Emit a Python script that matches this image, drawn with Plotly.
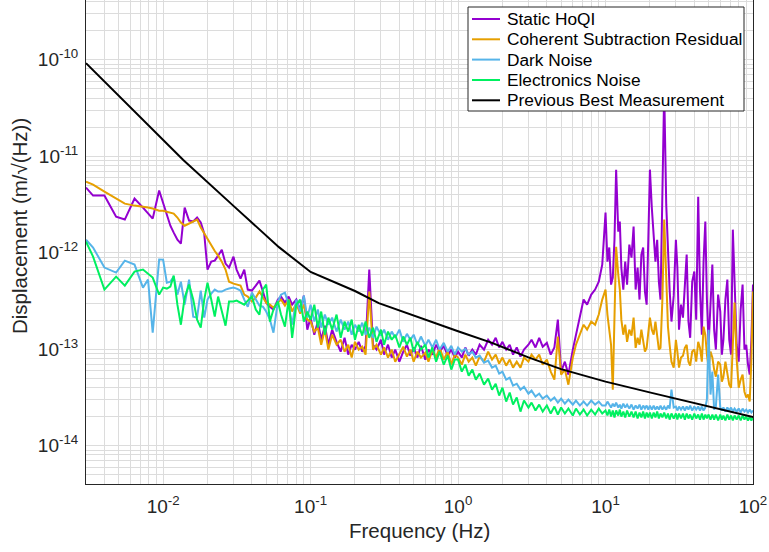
import plotly.graph_objects as go

# Frequency bins (Hz) shared by the four measured spectra
freq_hz = [
    0.0030, 0.00335, 0.0040, 0.0048, 0.0055, 0.0064, 0.0073, 0.0079, 0.0085, 0.0094,
    0.0100, 0.0106, 0.0112, 0.0118, 0.0125, 0.0132, 0.0140, 0.0150, 0.0160, 0.0170,
    0.0180, 0.0190, 0.0200, 0.0212, 0.0224, 0.0236, 0.0250, 0.0265, 0.0280, 0.0300,
    0.0315, 0.0335, 0.0355, 0.0375, 0.0400, 0.0425, 0.0450, 0.0475, 0.0500, 0.0530,
    0.0560, 0.0600, 0.0630, 0.0670, 0.0710, 0.0750, 0.0800, 0.0850, 0.0900, 0.0950,
    0.100, 0.106, 0.112, 0.118, 0.125, 0.132, 0.140, 0.150, 0.160, 0.170,
    0.180, 0.190, 0.200, 0.212, 0.224, 0.236, 0.250, 0.265, 0.280, 0.300,
    0.315, 0.335, 0.355, 0.375, 0.400, 0.425, 0.450, 0.475, 0.500, 0.530,
    0.560, 0.600, 0.630, 0.670, 0.710, 0.750, 0.800, 0.850, 0.900, 0.950,
    1.00, 1.06, 1.12, 1.18, 1.25, 1.32, 1.40, 1.50, 1.60, 1.70,
    1.80, 1.90, 2.00, 2.12, 2.24, 2.36, 2.50, 2.65, 2.80, 3.00,
    3.15, 3.35, 3.55, 3.75, 4.00, 4.25, 4.50, 4.75, 5.00, 5.30,
    5.60, 6.00, 6.30, 6.70, 7.10, 7.50, 8.00, 8.50, 9.00, 9.50,
    10.0, 10.3, 10.6, 10.9, 11.2, 11.5, 11.8, 12.2, 12.5, 12.8,
    13.2, 13.6, 14.0, 14.5, 15.0, 15.5, 16.0, 16.5, 17.0, 17.5,
    18.0, 18.5, 19.0, 19.5, 20.0, 20.6, 21.2, 21.8, 22.4, 23.0,
    23.6, 24.3, 25.0, 25.8, 26.5, 27.2, 28.0, 29.0, 30.0, 30.7,
    31.5, 32.5, 33.5, 34.5, 35.5, 36.5, 37.5, 38.7, 40.0, 41.2,
    42.5, 43.7, 45.0, 46.2, 47.5, 48.7, 50.0, 51.5, 53.0, 54.5,
    56.0, 58.0, 60.0, 61.5, 63.0, 65.0, 67.0, 69.0, 71.0, 73.0,
    75.0, 77.5, 80.0, 82.5, 85.0, 87.5, 90.0, 92.5, 95.0, 97.5,
    100.0,
]

# Displacement spectra, in units of 1e-13 m/sqrt(Hz)
static_hoqi = [
    47.2, 39.0, 39.0, 23.6, 22.0, 36.3, 29.3, 25.4, 22.5, 44.0,
    33.0, 25.4, 19.0, 16.1, 13.6, 12.4, 29.3, 21.5, 21.0, 23.1,
    20.5, 15.8, 6.67, 8.06, 8.26, 9.30, 10.7, 7.69, 7.0, 9.08,
    6.67, 5.38, 6.67, 4.14, 4.04, 4.55, 5.12, 3.95, 3.03, 2.75,
    2.57, 3.26, 3.50, 3.03, 3.50, 2.89, 3.26, 2.57, 3.58, 1.59,
    2.12, 1.41, 1.93, 1.25, 1.75, 1.11, 1.59, 1.19, 0.94, 1.31,
    0.877, 1.11, 0.989, 1.19, 0.94, 1.08, 6.67, 1.11, 0.989, 1.25,
    0.877, 1.11, 0.817, 0.989, 0.741, 0.94, 1.11, 0.856, 1.04, 0.817,
    1.08, 0.778, 0.989, 0.877, 1.11, 0.94, 1.08, 0.856, 0.989, 0.817,
    0.94, 0.817, 1.04, 0.856, 0.989, 0.877, 1.11, 0.989, 1.25, 1.11,
    1.31, 1.04, 1.19, 0.989, 1.11, 0.877, 1.04, 0.836, 0.989, 1.11,
    1.25, 1.04, 1.31, 1.06, 1.16, 0.877, 1.04, 2.02, 0.584, 0.741,
    0.544, 0.989, 1.41, 2.28, 3.26, 2.89, 3.67, 4.14, 5.0, 7.51,
    26.0, 8.06, 11.3, 4.66, 5.51, 13.6, 72.4, 16.5, 21.0, 6.99,
    4.14, 8.06, 4.66, 12.1, 8.87, 18.6, 4.14, 6.99, 3.26, 9.53,
    11.3, 3.95, 2.89, 13.6, 72.4, 29.2, 16.5, 8.06, 13.6, 5.0,
    3.26, 39.9, 488.7, 31.4, 9.53, 4.14, 1.93, 3.58, 13.6, 6.99,
    1.59, 2.89, 2.12, 4.66, 9.53, 1.93, 1.31, 5.0, 6.36, 2.02,
    38.0, 4.14, 1.41, 8.06, 21.0, 3.26, 1.11, 2.89, 7.51, 1.59,
    0.989, 3.67, 2.45, 0.877, 1.25, 3.26, 5.25, 1.25, 0.877, 17.3,
    3.95, 1.11, 0.741, 2.57, 4.66, 0.989, 1.11, 0.691, 0.544, 1.25,
    4.66,
]

coherent_residual = [
    54.4, 50.7, 42.9, 36.3, 32.2, 30.7, 30.0, 29.3, 28.6, 27.2,
    27.2, 26.6, 25.9, 25.4, 23.1, 20.5, 19.0, 20.0, 21.0, 22.0,
    18.2, 15.8, 13.9, 12.1, 10.4, 9.30, 8.06, 6.67, 5.0, 4.77,
    4.66, 4.55, 3.67, 3.50, 3.11, 3.42, 3.95, 3.50, 3.03, 2.89,
    2.69, 3.03, 3.26, 2.82, 3.26, 2.45, 2.96, 2.33, 2.89, 2.02,
    1.93, 1.52, 1.67, 1.11, 1.59, 0.989, 1.41, 1.11, 1.25, 0.94,
    1.11, 0.817, 1.19, 0.989, 1.06, 0.877, 3.95, 0.989, 1.11, 0.877,
    1.04, 0.817, 0.989, 0.741, 0.877, 1.06, 0.836, 0.989, 0.741, 0.94,
    0.817, 0.92, 0.741, 0.989, 0.817, 1.04, 0.778, 0.94, 0.691, 0.877,
    0.817, 0.691, 0.877, 0.741, 0.817, 0.674, 0.836, 0.741, 0.94, 0.778,
    0.877, 0.708, 0.817, 0.674, 0.778, 0.643, 0.741, 0.643, 0.817, 0.741,
    0.877, 0.778, 0.877, 0.691, 0.778, 0.584, 0.483, 1.35, 0.544, 0.613,
    0.428, 0.817, 1.11, 1.41, 1.79, 1.59, 1.93, 1.79, 2.28, 3.26,
    4.14, 2.28, 1.59, 1.11, 0.380, 3.26, 11.5, 5.92, 4.14, 2.02,
    1.41, 1.79, 1.19, 1.59, 1.38, 2.12, 1.03, 1.31, 1.11, 1.59,
    1.25, 0.943, 1.03, 1.59, 2.12, 1.59, 1.41, 1.93, 1.25, 0.989,
    1.03, 3.26, 22.0, 4.14, 1.71, 1.11, 0.741, 0.643, 1.25, 0.943,
    0.643, 0.817, 0.856, 1.03, 1.11, 0.741, 0.674, 0.943, 0.989, 0.741,
    1.19, 1.03, 0.741, 1.71, 1.41, 0.877, 0.643, 0.943, 0.817, 0.613,
    0.518, 0.741, 0.691, 0.460, 0.518, 0.741, 0.584, 0.428, 0.398, 1.25,
    3.03, 0.778, 0.398, 0.483, 0.544, 0.362, 0.315, 0.338, 0.286, 0.778,
    3.95,
]

dark_noise = [
    13.6, 11.3, 7.0, 6.21, 8.26, 7.52, 4.34, 5.25, 1.48, 8.47,
    8.46, 4.88, 5.0, 5.64, 3.67, 5.0, 2.89, 5.25, 2.17, 2.12,
    4.04, 2.12, 3.26, 3.76, 4.14, 3.95, 3.95, 4.14, 4.24, 4.34,
    4.24, 4.04, 3.26, 2.75, 3.85, 3.26, 2.82, 2.75, 2.45, 2.02,
    1.48, 3.11, 3.67, 3.85, 2.89, 1.79, 3.26, 2.45, 3.58, 2.12,
    2.89, 1.93, 2.57, 1.67, 2.28, 1.79, 2.12, 1.52, 2.02, 1.59,
    1.93, 1.41, 1.79, 1.52, 1.88, 1.41, 1.67, 1.31, 1.71, 1.38,
    1.59, 1.25, 1.52, 1.31, 1.59, 1.19, 1.44, 1.25, 1.41, 1.11,
    1.35, 1.08, 1.25, 1.04, 1.25, 0.989, 1.16, 0.94, 1.08, 0.877,
    1.04, 0.94, 1.01, 0.877, 0.94, 0.817, 0.856, 0.724, 0.759, 0.643,
    0.674, 0.557, 0.584, 0.483, 0.506, 0.418, 0.438, 0.380, 0.408, 0.346,
    0.371, 0.322, 0.346, 0.307, 0.330, 0.293, 0.315, 0.279, 0.307, 0.272,
    0.300, 0.266, 0.293, 0.260, 0.286, 0.260, 0.293, 0.266, 0.286, 0.260,
    0.260, 0.286, 0.266, 0.248, 0.272, 0.254, 0.279, 0.248, 0.266, 0.242,
    0.272, 0.248, 0.266, 0.242, 0.266, 0.236, 0.260, 0.242, 0.266, 0.236,
    0.260, 0.242, 0.260, 0.236, 0.260, 0.236, 0.260, 0.236, 0.254, 0.236,
    0.260, 0.236, 0.254, 0.236, 0.260, 0.242, 0.380, 0.248, 0.254, 0.231,
    0.254, 0.236, 0.254, 0.231, 0.254, 0.236, 0.260, 0.231, 0.254, 0.236,
    0.254, 0.231, 0.254, 0.231, 0.248, 0.300, 1.59, 0.338, 0.584, 0.236,
    0.254, 0.544, 0.248, 0.231, 0.248, 0.225, 0.248, 0.231, 0.248, 0.225,
    0.242, 0.225, 0.242, 0.220, 0.242, 0.225, 0.236, 0.220, 0.236, 0.220,
    0.231,
]

electronics_noise = [
    13.0, 9.1, 4.14, 5.64, 4.55, 6.36, 6.67, 6.06, 5.51, 3.67,
    4.34, 4.24, 4.45, 5.78, 2.89, 1.79, 3.42, 4.66, 3.26, 2.02,
    1.67, 3.26, 4.88, 3.26, 2.17, 3.50, 2.45, 1.75, 3.11, 3.11,
    3.18, 3.03, 2.89, 3.18, 3.50, 2.57, 2.28, 4.14, 4.66, 1.93,
    2.57, 3.11, 2.28, 1.71, 3.26, 1.31, 2.89, 3.26, 1.93, 2.45,
    2.02, 2.89, 1.67, 2.45, 1.41, 2.12, 1.59, 2.28, 1.31, 1.93,
    1.52, 2.02, 1.25, 1.79, 1.38, 1.93, 1.31, 1.67, 1.19, 1.59,
    1.11, 1.52, 1.25, 1.41, 1.04, 1.35, 1.11, 1.31, 0.94, 1.19,
    0.989, 1.11, 0.817, 1.04, 0.741, 0.94, 0.691, 0.856, 0.613, 0.778,
    0.778, 0.584, 0.691, 0.531, 0.613, 0.483, 0.557, 0.428, 0.495, 0.380,
    0.438, 0.330, 0.398, 0.286, 0.354, 0.266, 0.315, 0.225, 0.293, 0.248,
    0.279, 0.231, 0.266, 0.225, 0.260, 0.215, 0.254, 0.210, 0.248, 0.215,
    0.242, 0.205, 0.242, 0.210, 0.236, 0.205, 0.236, 0.210, 0.242, 0.215,
    0.231, 0.205, 0.236, 0.200, 0.231, 0.196, 0.231, 0.205, 0.236, 0.200,
    0.225, 0.196, 0.231, 0.200, 0.225, 0.196, 0.225, 0.191, 0.220, 0.196,
    0.225, 0.191, 0.220, 0.196, 0.220, 0.191, 0.220, 0.196, 0.225, 0.191,
    0.215, 0.196, 0.220, 0.191, 0.215, 0.186, 0.215, 0.191, 0.215, 0.186,
    0.215, 0.191, 0.215, 0.186, 0.215, 0.191, 0.210, 0.186, 0.215, 0.191,
    0.210, 0.186, 0.215, 0.186, 0.210, 0.191, 0.210, 0.186, 0.210, 0.186,
    0.210, 0.182, 0.210, 0.186, 0.205, 0.182, 0.210, 0.186, 0.205, 0.182,
    0.205, 0.186, 0.205, 0.182, 0.205, 0.186, 0.200, 0.182, 0.200, 0.182,
    0.196,
]

# Previous best measurement (m/sqrt(Hz))
prev_freq_hz = [0.003, 0.006, 0.0137, 0.03, 0.061, 0.1, 0.2, 0.29, 0.6, 1.0,
                1.7, 3.0, 5.0, 10.0, 20.9, 50.0, 100.0]
prev_best = [9.2e-11, 3.2e-11, 9.1e-12, 3.05e-12, 1.14e-12, 6.3e-13, 4.0e-13,
             3.0e-13, 2.0e-13, 1.53e-13, 1.16e-13, 8.2e-14, 6.2e-14, 4.6e-14,
             3.5e-14, 2.55e-14, 1.98e-14]

UNIT = 1e-13

legend_names = ["Static HoQI", "Coherent Subtraction Residual", "Dark Noise",
                "Electronics Noise", "Previous Best Measurement"]
legend_colors = ["#9400D0", "#E69F00", "#56B4E9", "#00F060", "#000000"]
series_vals = [static_hoqi, coherent_residual, dark_noise, electronics_noise]

x_tick_vals = [0.01, 0.1, 1, 10, 100]
x_tick_text = ["10<sup>-2</sup>", "10<sup>-1</sup>", "10<sup>0</sup>",
               "10<sup>1</sup>", "10<sup>2</sup>"]
y_tick_vals = [1e-14, 1e-13, 1e-12, 1e-11, 1e-10]
y_tick_text = ["10<sup>-14</sup>", "10<sup>-13</sup>", "10<sup>-12</sup>",
               "10<sup>-11</sup>", "10<sup>-10</sup>"]

FONT = "Liberation Sans, Arial, Helvetica, sans-serif"
TXT = "#262626"
GRID = "#dcdcdc"

fig = go.Figure()
for name, vals, col in zip(legend_names[:4], series_vals, legend_colors[:4]):
    fig.add_trace(go.Scatter(
        x=freq_hz, y=[v * UNIT for v in vals], mode="lines", name=name,
        line=dict(color=col, width=2)))
fig.add_trace(go.Scatter(
    x=prev_freq_hz, y=prev_best, mode="lines", name=legend_names[4],
    line=dict(color=legend_colors[4], width=2)))

axis_common = dict(
    type="log", showgrid=True, gridcolor=GRID, gridwidth=1,
    zeroline=False, showline=True, linecolor=TXT, linewidth=1,
    ticks="", tickfont=dict(family=FONT, size=19, color=TXT),
    minor=dict(showgrid=True, gridcolor=GRID, gridwidth=1, dtick="D1", ticks=""),
)

# Legend box drawn in paper coordinates (plot area: 667 x 484 px)
PW, PH = 667.0, 484.0
def px_x(px):
    return (px - 86.0) / PW
def px_y(py):
    return (PH - py) / PH

shapes = [dict(type="rect", xref="paper", yref="paper",
               x0=px_x(468), x1=px_x(744), y0=px_y(111), y1=px_y(7),
               fillcolor="white", line=dict(color=TXT, width=1), layer="above")]
annotations = []
row_px = [19.0, 39.3, 59.6, 80.0, 100.3]
for name, col, ry in zip(legend_names, legend_colors, row_px):
    shapes.append(dict(type="line", xref="paper", yref="paper",
                       x0=px_x(472), x1=px_x(500), y0=px_y(ry), y1=px_y(ry),
                       line=dict(color=col, width=2), layer="above"))
    annotations.append(dict(text=name, xref="paper", yref="paper",
                            x=px_x(505), y=px_y(ry), xanchor="left",
                            yanchor="middle", showarrow=False,
                            font=dict(family=FONT, size=17.3, color="#000000")))

annotations += [
    dict(text="Frequency (Hz)", xref="paper", yref="paper", x=0.5, y=-0.097,
         xanchor="center", yanchor="middle", showarrow=False,
         font=dict(family=FONT, size=20.5, color=TXT)),
    dict(text="Displacement (m/\u221a(Hz))", xref="paper", yref="paper",
         x=-0.1005, y=0.533, xanchor="center", yanchor="middle",
         textangle=-90, showarrow=False,
         font=dict(family=FONT, size=20.5, color=TXT)),
]

fig.update_layout(
    width=769, height=552,
    margin=dict(l=86, r=16, t=0, b=68, autoexpand=False),
    paper_bgcolor="white", plot_bgcolor="white",
    font=dict(family=FONT, color=TXT),
    showlegend=False,
    xaxis=dict(axis_common, range=[-2.5229, 2.0], tickmode="array",
               tickvals=x_tick_vals, ticktext=x_tick_text, mirror=False,
               ticklabelstandoff=5),
    yaxis=dict(axis_common, range=[-14.398, -9.382], tickmode="array",
               tickvals=y_tick_vals, ticktext=y_tick_text, mirror=True,
               ticklabelstandoff=3),
    shapes=shapes,
    annotations=annotations,
)

fig.write_html("out.html", config={"displayModeBar": False},
               post_script="document.body.style.margin='0';")
